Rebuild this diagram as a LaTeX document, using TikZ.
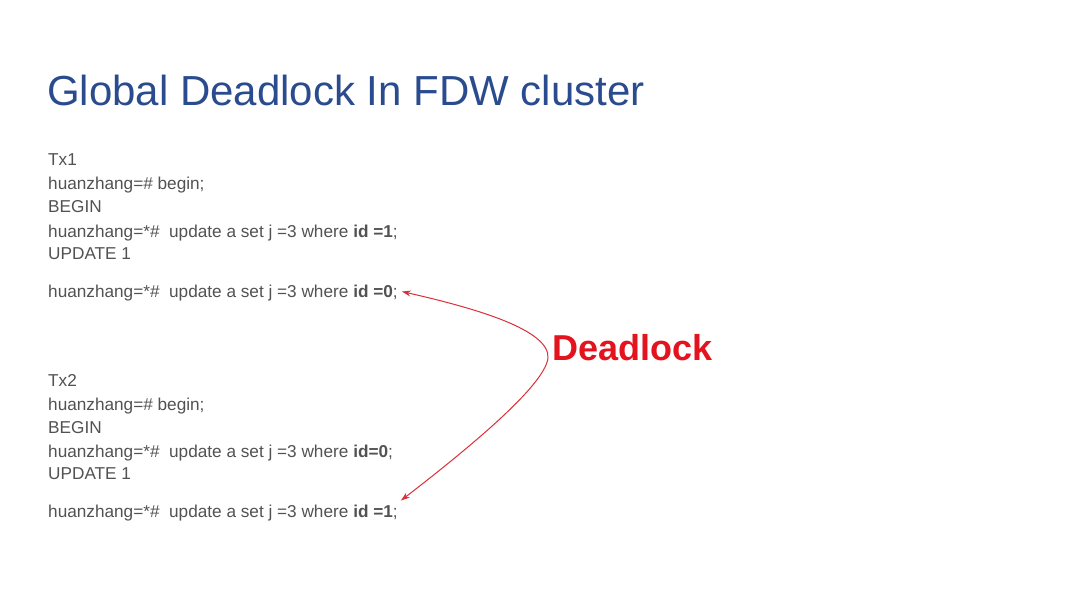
\documentclass[tikz,border=0pt]{standalone}
\usepackage{fontspec}
\setmainfont{Liberation Sans}
\usetikzlibrary{calc,arrows.meta}
\definecolor{titleblue}{HTML}{2A4B8D}
\definecolor{codegray}{HTML}{525252}
\definecolor{lockred}{HTML}{E3141E}
\definecolor{arrowred}{HTML}{D9303A}
\begin{document}
\begin{tikzpicture}[
        %We set the units to pixels and define some styles
        x=1pt, y=-1pt,
        title/.style={anchor=base west, inner sep=0pt, text=titleblue,
            font=\fontsize{42}{48}\selectfont},
        code line/.style={anchor=base west, inner sep=0pt, text=codegray,
            font=\fontsize{17.2}{20}\selectfont},
        lock label/.style={anchor=base west, inner sep=0pt, text=lockred,
            font=\bfseries\fontsize{36}{40}\selectfont},
        lock arrow/.style={{Stealth[length=9pt,width=6pt,inset=3pt]}-{Stealth[length=9pt,width=6pt,inset=3pt]},
            arrowred, line width=1pt},
        every node/.style={color=black,}
     ]
\useasboundingbox (0,0) rectangle (1080,607);
\fill[white] (0,0) rectangle (1080,607);
\begin{scope}
    % Title
    \node[title] (title) at (47,106) {Global Deadlock In FDW cluster};

    % Transaction 1
    \node[code line] (t1a) at (48,166) {Tx1};
    \node[code line] (t1b) at (48,190) {huanzhang=\# begin;};
    \node[code line] (t1c) at (48,213) {BEGIN};
    \node[code line] (t1d) at (48,237) {huanzhang=*\#\ \ update a set j =3 where \textbf{id =1};};
    \node[code line] (t1e) at (48,259) {UPDATE 1};
    \node[code line] (t1f) at (48,297) {huanzhang=*\#\ \ update a set j =3 where \textbf{id =0};};

    % Transaction 2
    \node[code line] (t2a) at (48,386) {Tx2};
    \node[code line] (t2b) at (48,410) {huanzhang=\# begin;};
    \node[code line] (t2c) at (48,433) {BEGIN};
    \node[code line] (t2d) at (48,457) {huanzhang=*\#\ \ update a set j =3 where \textbf{id=0};};
    \node[code line] (t2e) at (48,479) {UPDATE 1};
    \node[code line] (t2f) at (48,517) {huanzhang=*\#\ \ update a set j =3 where \textbf{id =1};};

    % The deadlock label and its arrows
    \node[lock label] (dl) at (552,360) {Deadlock};
    \coordinate (top) at ($(t1f.east)+(4,-1)$);
    \coordinate (bend) at ($(dl.base west)+(-4,-2)$);
    \coordinate (low) at ($(t2f.east)+(3,-12)$);
    \draw[lock arrow] (top)
        .. controls ($(top)+(75,17)$) and ($(bend)+(2,-28)$) .. (bend)
        .. controls ($(bend)+(-3,27)$) and ($(low)+(70,-54)$) .. (low);
\end{scope}
\end{tikzpicture}
\end{document}
